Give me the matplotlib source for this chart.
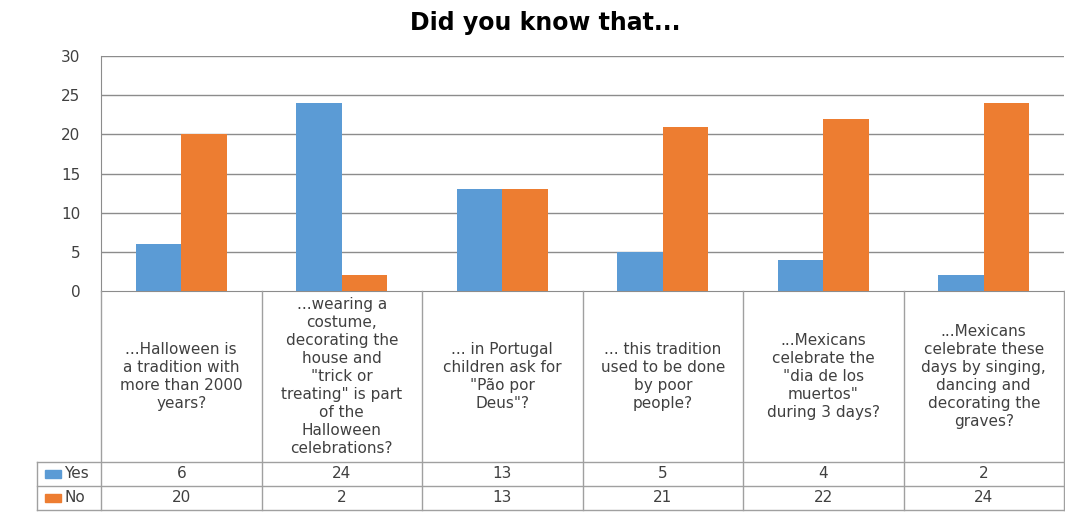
import matplotlib.pyplot as plt
import matplotlib.patches as mpatches

# Données
questions = [
    "...Halloween is\na tradition with\nmore than 2000\nyears?",
    "...wearing a\ncostume,\ndecorating the\nhouse and\n\"trick or\ntreating\" is part\nof the\nHalloween\ncelebrations?",
    "... in Portugal\nchildren ask for\n\"Pão por\nDeus\"?",
    "... this tradition\nused to be done\nby poor\npeople?",
    "...Mexicans\ncelebrate the\n\"dia de los\nmuertos\"\nduring 3 days?",
    "...Mexicans\ncelebrate these\ndays by singing,\ndancing and\ndecorating the\ngraves?",
]
oui = [6, 24, 13, 5, 4, 2]
non = [20, 2, 13, 21, 22, 24]
series = ["Yes", "No"]
couleurs = ["#5B9BD5", "#ED7D31"]
yticks = [0, 5, 10, 15, 20, 25, 30]

W, H = 1065, 513
grille = "#8C8C8C"
texte = "#404040"
fig = plt.figure(figsize=(W / 100, H / 100), dpi=100)

# pixels -> coordonnées figure
def fx(px):
    return px / W

def fy(py):
    return 1 - py / H

x0, x1 = 101, 1064
ytop, y0 = 56, 291
ax = fig.add_axes([fx(x0), fy(y0), fx(x1) - fx(x0), fy(ytop) - fy(y0)])

n = len(questions)
pos = list(range(n))
largeur = 0.285
ax.bar([p - largeur / 2 for p in pos], oui, largeur, color=couleurs[0], zorder=3)
ax.bar([p + largeur / 2 for p in pos], non, largeur, color=couleurs[1], zorder=3)
ax.set_xlim(-0.5, n - 0.5)
ax.set_ylim(0, 30)
ax.set_yticks(yticks)
ax.set_yticklabels([str(v) for v in yticks], fontsize=11, color=texte)
ax.tick_params(axis="y", length=0, pad=15)
ax.set_xticks([])
for v in yticks[1:]:
    ax.axhline(v, color=grille, lw=1, zorder=1)
for s in ["top", "right"]:
    ax.spines[s].set_visible(False)
ax.spines["left"].set_color(grille)
ax.spines["bottom"].set_color(grille)

fig.text(fx(545), fy(23), "Did you know that...", ha="center", va="center",
         fontsize=17, fontweight="bold")

# Tableau de données
leg_x = 37
tab = fig.add_axes([fx(leg_x), fy(510), fx(x1) - fx(leg_x), fy(291) - fy(510)])
col = (x1 - x0) / n  # largeur d'une colonne en pixels
unit = (x0 - leg_x) / col
tab.set_xlim(-0.5 - unit, n - 0.5)
tab.set_ylim(510, 291)
tab.axis("off")

lc = "#A0A0A0"
# lignes verticales
for i in range(n + 1):
    tab.plot([i - 0.5, i - 0.5], [291, 510], color=lc, lw=1, clip_on=False)
tab.plot([-0.5 - unit, -0.5 - unit], [462, 510], color=lc, lw=1, clip_on=False)
# lignes horizontales
for r in [462, 486, 510]:
    tab.plot([-0.5 - unit, n - 0.5], [r, r], color=lc, lw=1, clip_on=False)

for i, q in enumerate(questions):
    tab.text(i, 377, q, ha="center", va="center", fontsize=11,
             color=texte, linespacing=1.25)
    tab.text(i, 474, str(oui[i]), ha="center", va="center", fontsize=11, color=texte)
    tab.text(i, 498, str(non[i]), ha="center", va="center", fontsize=11, color=texte)

for nom, c, yc in zip(series, couleurs, [474, 498]):
    sx = -0.5 - unit + 8 / col
    tab.add_patch(mpatches.Rectangle((sx, yc + 4), 16 / col, -8,
                                     color=c, clip_on=False))
    tab.text(sx + 19 / col, yc, nom, ha="left", va="center",
             fontsize=11, color=texte)

fig.savefig("out.png", dpi=100)
